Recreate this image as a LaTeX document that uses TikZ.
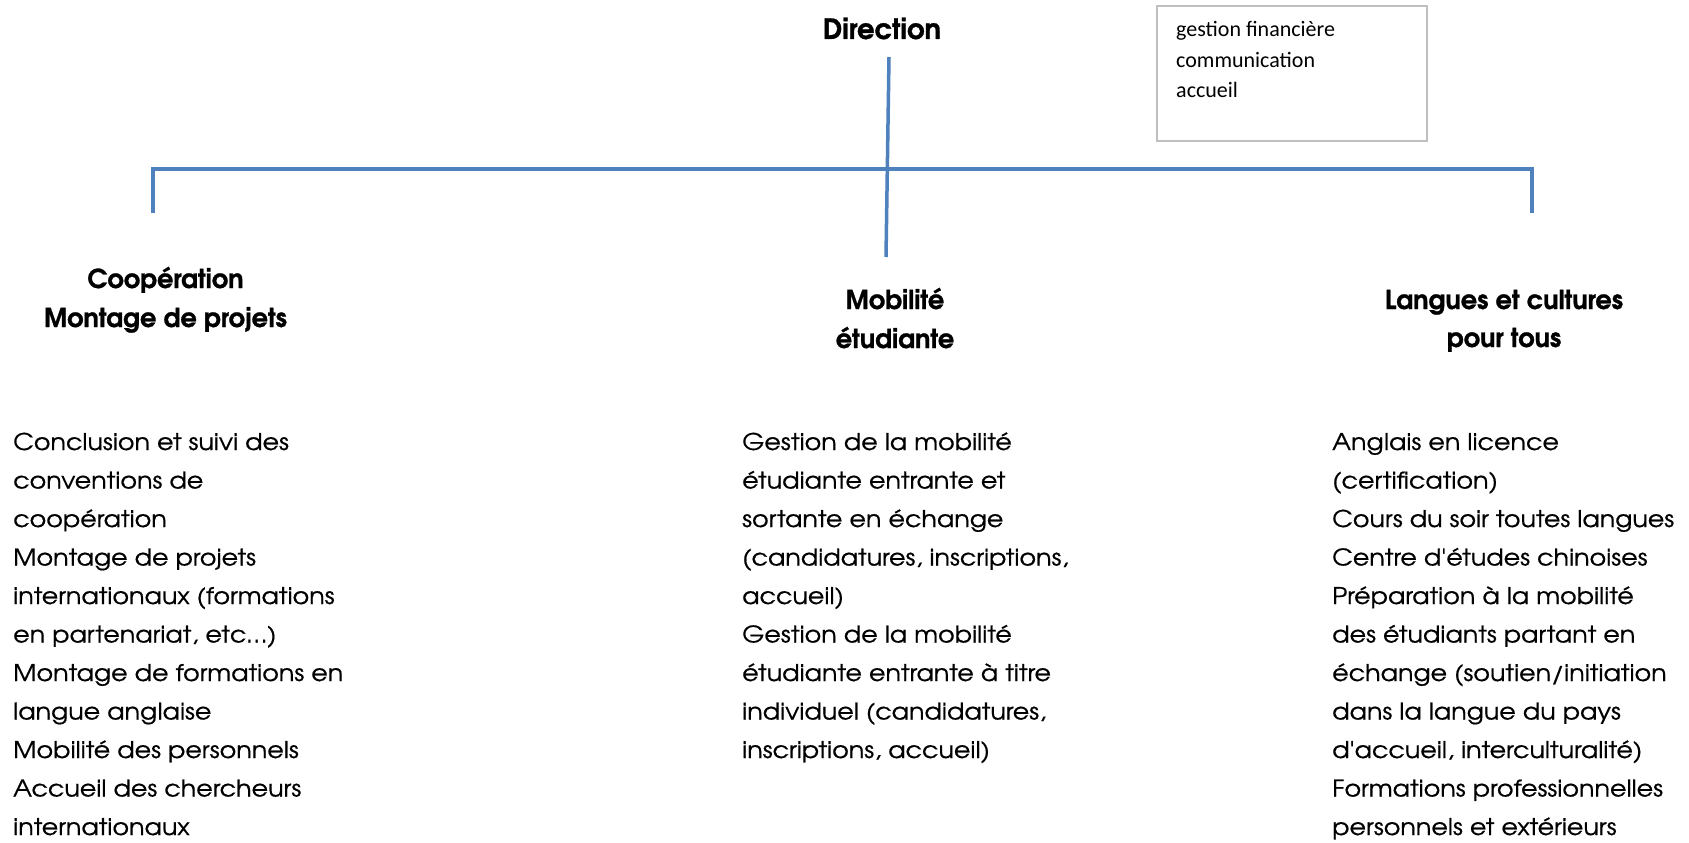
\documentclass[tikz,border=0pt]{standalone}
\usepackage{fontspec}
\newfontfamily\advR{texgyreadventor}[Extension=.otf,UprightFont=*-regular,BoldFont=*-bold,Ligatures=TeXOff]
\newfontfamily\calib{Carlito}[Ligatures=TeXOff]
\newlength\mywd
\settowidth\mywd{\advR\fontsize{23pt}{23pt}\selectfont Cours du soir toutes langues}
\pgfmathsetmacro\bodyst{342/\mywd}
\settowidth\mywd{\advR\bfseries\fontsize{26pt}{26pt}\selectfont Langues et cultures}
\pgfmathsetmacro\headst{238/\mywd}
\settowidth\mywd{\advR\bfseries\fontsize{28pt}{28pt}\selectfont Direction}
\pgfmathsetmacro\dirst{118/\mywd}
\edef\tmpa{\noexpand\newfontfamily\noexpand\bodyF{texgyreadventor}[Extension=.otf,UprightFont=*-regular,BoldFont=*-bold,Ligatures=TeXOff,FakeStretch=\bodyst,FakeBold=0.6]}\tmpa
\edef\tmpa{\noexpand\newfontfamily\noexpand\headF{texgyreadventor}[Extension=.otf,UprightFont=*-bold,Ligatures=TeXOff,FakeStretch=\headst,FakeBold=1.0]}\tmpa
\edef\tmpa{\noexpand\newfontfamily\noexpand\dirF{texgyreadventor}[Extension=.otf,UprightFont=*-bold,Ligatures=TeXOff,FakeStretch=\dirst,FakeBold=1.0]}\tmpa
\definecolor{linkblue}{HTML}{4F81BD}
\definecolor{boxgray}{HTML}{BFBFBF}
\tikzset{
  body/.style={font=\bodyF\fontsize{23pt}{27pt}\selectfont, anchor=base west, inner sep=0pt},
  head/.style={font=\headF\fontsize{26pt}{30pt}\selectfont, anchor=base, inner sep=0pt},
  dirhead/.style={font=\dirF\fontsize{28pt}{32pt}\selectfont, anchor=base, inner sep=0pt},
  boxtext/.style={font=\calib\fontsize{22pt}{26pt}\selectfont, anchor=base west, inner sep=0pt},
  conn/.style={draw=linkblue, line width=3.5pt},
  frame/.style={draw=boxgray, line width=1.8pt, anchor=north west, inner sep=0pt, minimum width=270pt, minimum height=135pt}
}
\begin{document}
\begin{tikzpicture}[x=1pt,y=-1pt]
\useasboundingbox[fill=white] (0,0) rectangle (1689,843);
% top
\node[dirhead] (dir) at (882,39) {Direction};
\node[frame] (box) at (1156,5) {};
\node[boxtext] (b1) at (1176,37) {gestion financière};
\node[boxtext] (b2) at (1176,67) {communication};
\node[boxtext] (b3) at (1176,97) {accueil};
% connectors
\coordinate (vtop) at (889,57);
\coordinate (vbot) at (886,257);
\coordinate (hl) at (153,169);
\coordinate (hr) at (1532,169);
\coordinate (bl) at (153,213);
\coordinate (br) at (1532,213);
\draw[conn] (vtop) -- (vbot);
\draw[conn] (bl) -- (hl) -- (hr) -- (br);
% headings
\node[head] (h1a) at (165.5,288) {Coopération};
\node[head] (h1b) at (165.5,327) {Montage de projets};
\node[head] (h2a) at (895,309) {Mobilité};
\node[head] (h2b) at (895,348) {étudiante};
\node[head] (h3a) at (1504,309) {Langues et cultures};
\node[head] (h3b) at (1504,347) {pour tous};
% bodies
\foreach \t [count=\i from 0] in {Conclusion et suivi des, conventions de, coopération, Montage de projets, internationaux (formations, {en partenariat, etc…)}, Montage de formations en, langue anglaise, Mobilité des personnels, Accueil des chercheurs, internationaux}
  \node[body] (l\i) at (13,450+38.5*\i) {\t};
\foreach \t [count=\i from 0] in {Gestion de la mobilité, étudiante entrante et, sortante en échange, {(candidatures, inscriptions,}, accueil), Gestion de la mobilité, étudiante entrante à titre, {individuel (candidatures,}, {inscriptions, accueil)}}
  \node[body] (m\i) at (742,450+38.5*\i) {\t};
\foreach \t [count=\i from 0] in {Anglais en licence, (certification), Cours du soir toutes langues, Centre d'études chinoises, Préparation à la mobilité, des étudiants partant en, échange (soutien/initiation, dans la langue du pays, {d'accueil, interculturalité)}, Formations professionnelles, personnels et extérieurs}
  \node[body] (r\i) at (1332,450+38.5*\i) {\t};
\end{tikzpicture}
\end{document}
